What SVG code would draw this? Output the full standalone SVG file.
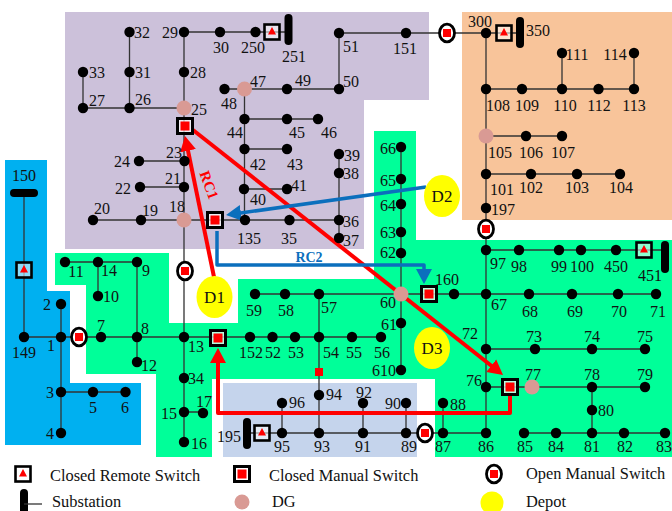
<svg xmlns="http://www.w3.org/2000/svg" width="672" height="511" viewBox="0 0 672 511">
<style>
text{font-family:"Liberation Serif","Times New Roman",serif;font-size:16px;fill:#111;text-anchor:middle}
.lg{font-size:16.400px;text-anchor:start}
.n{fill:#000;r:5.200px}
.dg{fill:#d99a94;r:7.500px}
.w{fill:none;stroke:#333;stroke-width:1.3}
.rc{fill:none;stroke:#f00;stroke-width:4;stroke-linejoin:round}
.bc{fill:none;stroke:#0b6fbd;stroke-width:3.5;stroke-linejoin:round}
.bar{fill:none;stroke:#000;stroke-width:8;stroke-linecap:round}
.dp{fill:#ff0}
</style>
<defs>
<marker id="ar" markerUnits="userSpaceOnUse" markerWidth="18" markerHeight="18" refX="9" refY="8" viewBox="0 0 18 16" orient="auto"><path d="M0,0L15,8L0,16z" fill="#f00"/></marker>
<marker id="ab" markerUnits="userSpaceOnUse" markerWidth="18" markerHeight="18" refX="9" refY="8" viewBox="0 0 18 16" orient="auto"><path d="M0,0L15,8L0,16z" fill="#0b6fbd"/></marker>
<g id="rs"><rect x="-7.500" y="-7.500" width="15" height="15" fill="#fff" fill-opacity=".55" stroke="#000" stroke-width="2.600"/><path d="M0,-5L4,2.500H-4z" fill="#f00"/></g>
<g id="cm"><rect x="-7.500" y="-7.500" width="15" height="15" fill="#fff" fill-opacity=".7" stroke="#000" stroke-width="3"/><rect x="-4.500" y="-4.500" width="9" height="9" fill="#f00"/></g>
<g id="om"><ellipse rx="7.500" ry="8.800" fill="#fff" stroke="#000" stroke-width="2.800"/><rect x="-4" y="-4" width="8" height="8" fill="#f00"/></g>
</defs>
<g id="regions">
<path fill="#ccc1da" d="M65,12H429V100H364V249H65z"/>
<path fill="#f8c49a" d="M462,12H672V220H462z"/>
<path fill="#00ff99" d="M374,131H416V240H672V457H435V379H212V457H156V374H86V285H55V253H169V323H238V279H374z"/>
<path fill="#00b0f0" d="M5,160H47V291H70V383H141V445H5z"/>
<path fill="#c5d4ec" d="M223,383H417V457H223z"/>
</g>
<g id="connectors">
<path class="w" d="M184,32H288M129.500,32V108M83,72V108M83,108H184M184,32V442M139,161H184M140,187H184M93,220H339M224,89H339M339,33V89M244.500,89V220M244,119H318M244,149H287M244,189H287M339,154V238M339,33H520M486,33V433M486,89H634M562,53V89M634,53V89M486,136H562M486,174H620M486,250H665M401,147V370M255,294H656M24,193V337M24,337H381M61,304V433M61,392H125M137,262V362M65,262H137M98,262V296M184,412H203M319,294V433M282,403V433M247,433H486M524,433H665M363,403V433M406,403V433M443,403V433M486,349H645M486,387H645M592,387V433"/>
<path class="rc" d="M214,277L186.200,141.900" marker-end="url(#ar)"/>
<path class="rc" d="M193,130L498.300,371.300" marker-end="url(#ar)"/>
<path class="rc" d="M510,395V413H218V354" marker-end="url(#ar)"/>
<path class="bc" d="M426,187L232,214.200" marker-end="url(#ab)"/>
<path class="bc" d="M217,231V265H424V278" marker-end="url(#ab)"/>
<text x="209" y="190" transform="rotate(70 209 185)" style="fill:#f00;font-weight:bold;font-size:15px">RC1</text>
<text x="309" y="262" style="fill:#0b6fbd;font-weight:bold;font-size:14px">RC2</text>
</g>
<g id="n32"><circle class="n" cx="129.500" cy="32"/><text x="142" y="38">32</text></g>
<g id="n29"><circle class="n" cx="184" cy="32"/><text x="170" y="38">29</text></g>
<g id="n30"><circle class="n" cx="220" cy="32"/><text x="221" y="53">30</text></g>
<g id="n250"><circle class="n" cx="255.500" cy="32"/><text x="253" y="53">250</text></g>
<g id="sw250"><use href="#rs" x="272" y="32"/></g>
<g id="n251"><path class="bar" d="M288.500,18V41"/><text x="294" y="62">251</text></g>
<g id="n33"><circle class="n" cx="83" cy="72"/><text x="97" y="78">33</text></g>
<g id="n31"><circle class="n" cx="129.500" cy="72"/><text x="143" y="78">31</text></g>
<g id="n28"><circle class="n" cx="184" cy="72"/><text x="198" y="78">28</text></g>
<g id="n27"><circle class="n" cx="83" cy="108"/><text x="97" y="106">27</text></g>
<g id="n26"><circle class="n" cx="129.500" cy="108"/><text x="143" y="105">26</text></g>
<g id="n25"><circle class="dg" cx="184" cy="108"/><text x="199" y="115">25</text></g>
<g id="sw25"><use href="#cm" x="185" y="126"/></g>
<g id="n23"><circle class="n" cx="184.500" cy="161"/><text x="174" y="158">23</text></g>
<g id="n24"><circle class="n" cx="139" cy="161"/><text x="122" y="167">24</text></g>
<g id="n21"><circle class="n" cx="184" cy="187"/><text x="173" y="184">21</text></g>
<g id="n22"><circle class="n" cx="140" cy="187"/><text x="123" y="194">22</text></g>
<g id="n18"><circle class="dg" cx="184" cy="220"/><text x="177" y="212">18</text></g>
<g id="n19"><circle class="n" cx="141" cy="220"/><text x="150" y="216">19</text></g>
<g id="n20"><circle class="n" cx="93" cy="220"/><text x="102" y="214">20</text></g>
<g id="sw18"><use href="#cm" x="215" y="220"/></g>
<g id="n135"><circle class="n" cx="245" cy="220"/><text x="249" y="244">135</text></g>
<g id="n35"><circle class="n" cx="289.500" cy="220"/><text x="289" y="244">35</text></g>
<g id="n36"><circle class="n" cx="339" cy="220"/><text x="351" y="227">36</text></g>
<g id="n37"><circle class="n" cx="339" cy="238"/><text x="351" y="246">37</text></g>
<g id="n48"><circle class="n" cx="224.500" cy="89"/><text x="229" y="109">48</text></g>
<g id="n47"><circle class="dg" cx="244.500" cy="89"/><text x="258" y="87">47</text></g>
<g id="n49"><circle class="n" cx="287" cy="89"/><text x="303" y="86">49</text></g>
<g id="n50"><circle class="n" cx="339" cy="89"/><text x="351" y="87">50</text></g>
<g id="n51"><circle class="n" cx="339" cy="33"/><text x="351" y="52">51</text></g>
<g id="n44"><circle class="n" cx="244.500" cy="119"/><text x="235" y="138">44</text></g>
<g id="n45"><circle class="n" cx="287" cy="119"/><text x="297" y="138">45</text></g>
<g id="n46"><circle class="n" cx="318" cy="119"/><text x="329" y="138">46</text></g>
<g id="n42"><circle class="n" cx="244.500" cy="149"/><text x="258" y="170">42</text></g>
<g id="n43"><circle class="n" cx="287" cy="149"/><text x="295" y="170">43</text></g>
<g id="n40"><circle class="n" cx="244" cy="189"/><text x="258" y="205">40</text></g>
<g id="n41"><circle class="n" cx="287" cy="189"/><text x="299" y="191">41</text></g>
<g id="n39"><circle class="n" cx="339" cy="154"/><text x="352" y="161">39</text></g>
<g id="n38"><circle class="n" cx="339" cy="173"/><text x="351" y="179">38</text></g>
<g id="n151"><circle class="n" cx="406" cy="33"/><text x="405" y="54">151</text></g>
<g id="sw151"><use href="#om" x="447" y="33"/></g>
<g id="n300"><circle class="n" cx="486" cy="33"/><text x="480" y="27">300</text></g>
<g id="sw300"><use href="#rs" x="504" y="33"/></g>
<g id="n350"><path class="bar" d="M520,21V44"/><text x="538" y="36">350</text></g>
<g id="n111"><circle class="n" cx="562" cy="53"/><text x="577" y="60">111</text></g>
<g id="n114"><circle class="n" cx="634" cy="53"/><text x="615" y="60">114</text></g>
<g id="n108"><circle class="n" cx="486" cy="89"/><text x="498" y="111">108</text></g>
<g id="n109"><circle class="n" cx="522" cy="89"/><text x="527" y="111">109</text></g>
<g id="n110"><circle class="n" cx="562" cy="89"/><text x="565" y="111">110</text></g>
<g id="n112"><circle class="n" cx="598.500" cy="89"/><text x="599" y="111">112</text></g>
<g id="n113"><circle class="n" cx="634" cy="89"/><text x="634" y="111">113</text></g>
<g id="n105"><circle class="dg" cx="486" cy="136"/><text x="500" y="158">105</text></g>
<g id="n106"><circle class="n" cx="526" cy="136"/><text x="531" y="158">106</text></g>
<g id="n107"><circle class="n" cx="562" cy="136"/><text x="563" y="158">107</text></g>
<g id="n101"><circle class="n" cx="486" cy="174"/><text x="502" y="195">101</text></g>
<g id="n102"><circle class="n" cx="531" cy="174"/><text x="531" y="193">102</text></g>
<g id="n103"><circle class="n" cx="577" cy="174"/><text x="577" y="193">103</text></g>
<g id="n104"><circle class="n" cx="620" cy="174"/><text x="621" y="193">104</text></g>
<g id="n197"><circle class="n" cx="486" cy="208"/><text x="503" y="215">197</text></g>
<g id="sw197"><use href="#om" x="486" y="229"/></g>
<g id="n97"><circle class="n" cx="486" cy="250"/><text x="498" y="269">97</text></g>
<g id="n98"><circle class="n" cx="519" cy="250"/><text x="519" y="272">98</text></g>
<g id="n99"><circle class="n" cx="559" cy="250"/><text x="559" y="272">99</text></g>
<g id="n100"><circle class="n" cx="581" cy="250"/><text x="582" y="272">100</text></g>
<g id="n450"><circle class="n" cx="616" cy="250"/><text x="616" y="272">450</text></g>
<g id="sw451"><use href="#rs" x="644" y="250"/></g>
<g id="n451"><path class="bar" d="M665,245V269"/><text x="650" y="281">451</text></g>
<g id="n66"><circle class="n" cx="401" cy="147"/><text x="388" y="154">66</text></g>
<g id="n65"><circle class="n" cx="401" cy="179"/><text x="388" y="186">65</text></g>
<g id="n64"><circle class="n" cx="401" cy="204"/><text x="388" y="211">64</text></g>
<g id="n63"><circle class="n" cx="401" cy="232"/><text x="388" y="238">63</text></g>
<g id="n62"><circle class="n" cx="401" cy="253"/><text x="388" y="258">62</text></g>
<g id="n60"><circle class="dg" cx="401" cy="294"/><text x="388" y="308">60</text></g>
<g id="n61"><circle class="n" cx="401" cy="323"/><text x="389" y="330">61</text></g>
<g id="n610"><circle class="n" cx="401" cy="370"/><text x="384" y="376">610</text></g>
<g id="sw60"><use href="#cm" x="429" y="294"/></g>
<g id="n160"><circle class="n" cx="454" cy="294"/><text x="447" y="285">160</text></g>
<g id="n67"><circle class="n" cx="486" cy="294"/><text x="499" y="310">67</text></g>
<g id="n68"><circle class="n" cx="529" cy="294"/><text x="530" y="317">68</text></g>
<g id="n69"><circle class="n" cx="572" cy="294"/><text x="575" y="317">69</text></g>
<g id="n70"><circle class="n" cx="618" cy="294"/><text x="619" y="317">70</text></g>
<g id="n71"><circle class="n" cx="656" cy="294"/><text x="658" y="317">71</text></g>
<g id="n59"><circle class="n" cx="255" cy="294"/><text x="254" y="316">59</text></g>
<g id="n58"><circle class="n" cx="285" cy="294"/><text x="286" y="316">58</text></g>
<g id="n57"><circle class="n" cx="319" cy="294"/><text x="329" y="313">57</text></g>
<g id="n149"><circle class="n" cx="24" cy="337"/><text x="24" y="358">149</text></g>
<g id="n1"><circle class="n" cx="61" cy="337"/><text x="51" y="351">1</text></g>
<g id="sw1"><use href="#om" x="79" y="337"/></g>
<g id="n7"><circle class="n" cx="101" cy="337"/><text x="101" y="331">7</text></g>
<g id="n8"><circle class="n" cx="137" cy="337"/><text x="145" y="334">8</text></g>
<g id="n13"><circle class="n" cx="184" cy="337"/><text x="196" y="352">13</text></g>
<g id="sw13"><use href="#cm" x="218" y="338"/></g>
<g id="n152"><circle class="n" cx="250" cy="337"/><text x="251" y="358">152</text></g>
<g id="n52"><circle class="n" cx="272.500" cy="337"/><text x="273" y="358">52</text></g>
<g id="n53"><circle class="n" cx="295" cy="337"/><text x="296" y="358">53</text></g>
<g id="n54"><circle class="n" cx="319" cy="337"/><text x="331" y="358">54</text></g>
<g id="n55"><circle class="n" cx="352" cy="337"/><text x="354" y="358">55</text></g>
<g id="n56"><circle class="n" cx="381" cy="337"/><text x="382" y="358">56</text></g>
<g id="n2"><circle class="n" cx="61" cy="304"/><text x="47" y="310">2</text></g>
<g id="n3"><circle class="n" cx="61" cy="392"/><text x="50" y="398">3</text></g>
<g id="n5"><circle class="n" cx="93" cy="392"/><text x="93" y="413">5</text></g>
<g id="n6"><circle class="n" cx="125.500" cy="392"/><text x="125" y="413">6</text></g>
<g id="n4"><circle class="n" cx="61" cy="433"/><text x="50" y="439">4</text></g>
<g id="n11"><circle class="n" cx="65" cy="262"/><text x="76" y="277">11</text></g>
<g id="n14"><circle class="n" cx="98" cy="262"/><text x="109" y="276">14</text></g>
<g id="n9"><circle class="n" cx="137" cy="262"/><text x="146" y="276">9</text></g>
<g id="n10"><circle class="n" cx="98" cy="296"/><text x="111" y="302">10</text></g>
<g id="n12"><circle class="n" cx="137" cy="362"/><text x="149" y="371">12</text></g>
<g id="sw18b"><use href="#om" x="185" y="271"/></g>
<g id="n34"><circle class="n" cx="184" cy="378"/><text x="196" y="384">34</text></g>
<g id="n15"><circle class="n" cx="184" cy="412"/><text x="169" y="419">15</text></g>
<g id="n17"><circle class="n" cx="203" cy="413"/><text x="204" y="407">17</text></g>
<g id="n16"><circle class="n" cx="184" cy="442"/><text x="199" y="449">16</text></g>
<g id="n150"><path class="bar" d="M14,193H34"/><text x="24" y="181">150</text></g>
<g id="sw150"><use href="#rs" x="24" y="270"/></g>
<g id="sw54"><rect x="315" y="368" width="8" height="8" fill="#f00"/></g>
<g id="n94"><circle class="n" cx="319" cy="395"/><text x="334" y="400">94</text></g>
<g id="n96"><circle class="n" cx="282" cy="403"/><text x="297" y="408">96</text></g>
<g id="n195"><path class="bar" d="M247,422V445"/><text x="229" y="442">195</text></g>
<g id="sw195"><use href="#rs" x="262" y="433"/></g>
<g id="n95"><circle class="n" cx="282" cy="433"/><text x="282" y="452">95</text></g>
<g id="n93"><circle class="n" cx="319" cy="433"/><text x="322" y="452">93</text></g>
<g id="n91"><circle class="n" cx="363" cy="433"/><text x="363" y="452">91</text></g>
<g id="n92"><circle class="n" cx="363" cy="403"/><text x="364" y="398">92</text></g>
<g id="n90"><circle class="n" cx="406" cy="403"/><text x="393" y="409">90</text></g>
<g id="n89"><circle class="n" cx="406" cy="433"/><text x="409" y="452">89</text></g>
<g id="sw89"><use href="#om" x="425" y="433"/></g>
<g id="n87"><circle class="n" cx="443" cy="433"/><text x="443" y="452">87</text></g>
<g id="n88"><circle class="n" cx="443" cy="403"/><text x="458" y="410">88</text></g>
<g id="n86"><circle class="n" cx="486" cy="433"/><text x="486" y="452">86</text></g>
<g id="n85"><circle class="n" cx="524" cy="433"/><text x="525" y="452">85</text></g>
<g id="n84"><circle class="n" cx="556" cy="433"/><text x="556" y="452">84</text></g>
<g id="n81"><circle class="n" cx="592" cy="433"/><text x="592" y="452">81</text></g>
<g id="n82"><circle class="n" cx="624" cy="433"/><text x="625" y="452">82</text></g>
<g id="n83"><circle class="n" cx="665" cy="433"/><text x="664" y="452">83</text></g>
<g id="n72"><circle class="n" cx="486" cy="349"/><text x="470" y="339">72</text></g>
<g id="n73"><circle class="n" cx="535" cy="349"/><text x="534" y="342">73</text></g>
<g id="n74"><circle class="n" cx="592" cy="349"/><text x="592" y="342">74</text></g>
<g id="n75"><circle class="n" cx="645" cy="349"/><text x="645" y="342">75</text></g>
<g id="n76"><circle class="n" cx="486" cy="387"/><text x="474" y="386">76</text></g>
<g id="sw76"><use href="#cm" x="510" y="387"/></g>
<g id="n77"><circle class="dg" cx="532" cy="387"/><text x="533" y="380">77</text></g>
<g id="n78"><circle class="n" cx="592" cy="387"/><text x="592" y="380">78</text></g>
<g id="n79"><circle class="n" cx="645" cy="387"/><text x="645" y="380">79</text></g>
<g id="n80"><circle class="n" cx="592" cy="410"/><text x="606" y="416">80</text></g>
<g id="D1"><ellipse class="dp" cx="214.500" cy="297" rx="18" ry="21"/><text x="214.500" y="303" style="font-size:17px">D1</text></g>
<g id="D2"><ellipse class="dp" cx="442" cy="196" rx="18" ry="21"/><text x="442" y="202" style="font-size:17px">D2</text></g>
<g id="D3"><ellipse class="dp" cx="432" cy="348" rx="18" ry="21"/><text x="432" y="354" style="font-size:17px">D3</text></g>
<g id="legend">
<use href="#rs" x="23" y="474"/><text class="lg" x="50" y="481">Closed Remote Switch</text>
<use href="#cm" x="242" y="474"/><text class="lg" x="269" y="481">Closed Manual Switch</text>
<use href="#om" x="494" y="474"/><text class="lg" x="526" y="479">Open Manual Switch</text>
<path class="bar" d="M24,493V515"/><path class="w" d="M24,504H42"/><text class="lg" x="52" y="506.500">Substation</text>
<circle class="dg" cx="242" cy="502"/><text class="lg" x="272" y="507">DG</text>
<circle class="dp" cx="492" cy="503" r="11.500"/><text class="lg" x="526" y="506.500">Depot</text>
</g>
</svg>
